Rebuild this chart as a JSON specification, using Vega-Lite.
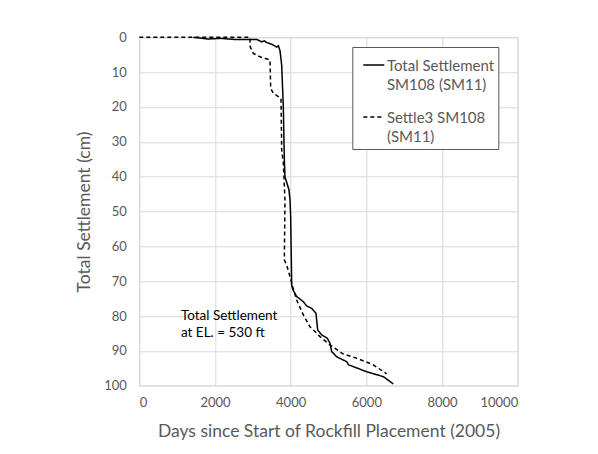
{
  "$schema": "https://vega.github.io/schema/vega-lite/v6.json",
  "autosize": "none",
  "width": 378.4,
  "height": 348.4,
  "padding": {"left": 139.3, "top": 37.3, "right": 80.3, "bottom": 68.3},
  "background": "white",
  "config": {
    "font": "Lato",
    "view": {"stroke": "#d9d9d9"},
    "axis": {
      "domain": false,
      "ticks": false,
      "gridColor": "#d9d9d9",
      "gridWidth": 1,
      "labelColor": "#595959",
      "labelFontSize": 13,
      "labelFont": "Lato",
      "labelOverlap": false,
      "titleColor": "#595959",
      "titleFontSize": 17.5,
      "titleFontWeight": "normal",
      "titleFont": "Lato"
    }
  },
  "datasets": {
    "series": [
      {"series": "Total Settlement SM108 (SM11)", "i": 1, "day": 1427, "cm": 0.0},
      {"series": "Total Settlement SM108 (SM11)", "i": 2, "day": 1824, "cm": 0.5},
      {"series": "Total Settlement SM108 (SM11)", "i": 3, "day": 2133, "cm": 0.3},
      {"series": "Total Settlement SM108 (SM11)", "i": 4, "day": 2500, "cm": 0.6},
      {"series": "Total Settlement SM108 (SM11)", "i": 5, "day": 3102, "cm": 0.6},
      {"series": "Total Settlement SM108 (SM11)", "i": 6, "day": 3234, "cm": 1.3},
      {"series": "Total Settlement SM108 (SM11)", "i": 7, "day": 3300, "cm": 1.0},
      {"series": "Total Settlement SM108 (SM11)", "i": 8, "day": 3366, "cm": 1.5},
      {"series": "Total Settlement SM108 (SM11)", "i": 9, "day": 3499, "cm": 2.0},
      {"series": "Total Settlement SM108 (SM11)", "i": 10, "day": 3631, "cm": 2.8},
      {"series": "Total Settlement SM108 (SM11)", "i": 11, "day": 3675, "cm": 2.4},
      {"series": "Total Settlement SM108 (SM11)", "i": 12, "day": 3718, "cm": 3.8},
      {"series": "Total Settlement SM108 (SM11)", "i": 13, "day": 3763, "cm": 8.0},
      {"series": "Total Settlement SM108 (SM11)", "i": 14, "day": 3806, "cm": 19.9},
      {"series": "Total Settlement SM108 (SM11)", "i": 15, "day": 3833, "cm": 35.2},
      {"series": "Total Settlement SM108 (SM11)", "i": 16, "day": 3850, "cm": 40.0},
      {"series": "Total Settlement SM108 (SM11)", "i": 17, "day": 3956, "cm": 43.8},
      {"series": "Total Settlement SM108 (SM11)", "i": 18, "day": 3983, "cm": 46.7},
      {"series": "Total Settlement SM108 (SM11)", "i": 19, "day": 4000, "cm": 51.5},
      {"series": "Total Settlement SM108 (SM11)", "i": 20, "day": 4027, "cm": 71.1},
      {"series": "Total Settlement SM108 (SM11)", "i": 21, "day": 4053, "cm": 72.3},
      {"series": "Total Settlement SM108 (SM11)", "i": 22, "day": 4159, "cm": 74.4},
      {"series": "Total Settlement SM108 (SM11)", "i": 23, "day": 4335, "cm": 75.9},
      {"series": "Total Settlement SM108 (SM11)", "i": 24, "day": 4423, "cm": 77.1},
      {"series": "Total Settlement SM108 (SM11)", "i": 25, "day": 4555, "cm": 77.8},
      {"series": "Total Settlement SM108 (SM11)", "i": 26, "day": 4669, "cm": 79.2},
      {"series": "Total Settlement SM108 (SM11)", "i": 27, "day": 4714, "cm": 84.0},
      {"series": "Total Settlement SM108 (SM11)", "i": 28, "day": 4820, "cm": 85.4},
      {"series": "Total Settlement SM108 (SM11)", "i": 29, "day": 4969, "cm": 86.4},
      {"series": "Total Settlement SM108 (SM11)", "i": 30, "day": 5040, "cm": 87.8},
      {"series": "Total Settlement SM108 (SM11)", "i": 31, "day": 5084, "cm": 90.2},
      {"series": "Total Settlement SM108 (SM11)", "i": 32, "day": 5216, "cm": 91.7},
      {"series": "Total Settlement SM108 (SM11)", "i": 33, "day": 5481, "cm": 93.1},
      {"series": "Total Settlement SM108 (SM11)", "i": 34, "day": 5530, "cm": 94.0},
      {"series": "Total Settlement SM108 (SM11)", "i": 35, "day": 6009, "cm": 96.0},
      {"series": "Total Settlement SM108 (SM11)", "i": 36, "day": 6450, "cm": 97.4},
      {"series": "Total Settlement SM108 (SM11)", "i": 37, "day": 6713, "cm": 99.5},
      {"series": "Settle3 SM108 (SM11)", "i": 1, "day": 0, "cm": 0.0},
      {"series": "Settle3 SM108 (SM11)", "i": 2, "day": 2925, "cm": 0.0},
      {"series": "Settle3 SM108 (SM11)", "i": 3, "day": 2930, "cm": 2.7},
      {"series": "Settle3 SM108 (SM11)", "i": 4, "day": 3013, "cm": 4.6},
      {"series": "Settle3 SM108 (SM11)", "i": 5, "day": 3190, "cm": 5.6},
      {"series": "Settle3 SM108 (SM11)", "i": 6, "day": 3454, "cm": 6.5},
      {"series": "Settle3 SM108 (SM11)", "i": 7, "day": 3472, "cm": 14.6},
      {"series": "Settle3 SM108 (SM11)", "i": 8, "day": 3542, "cm": 16.1},
      {"series": "Settle3 SM108 (SM11)", "i": 9, "day": 3674, "cm": 17.0},
      {"series": "Settle3 SM108 (SM11)", "i": 10, "day": 3745, "cm": 17.5},
      {"series": "Settle3 SM108 (SM11)", "i": 11, "day": 3763, "cm": 32.3},
      {"series": "Settle3 SM108 (SM11)", "i": 12, "day": 3806, "cm": 36.1},
      {"series": "Settle3 SM108 (SM11)", "i": 13, "day": 3850, "cm": 46.7},
      {"series": "Settle3 SM108 (SM11)", "i": 14, "day": 3833, "cm": 63.9},
      {"series": "Settle3 SM108 (SM11)", "i": 15, "day": 3895, "cm": 65.4},
      {"series": "Settle3 SM108 (SM11)", "i": 16, "day": 3983, "cm": 68.7},
      {"series": "Settle3 SM108 (SM11)", "i": 17, "day": 4053, "cm": 71.6},
      {"series": "Settle3 SM108 (SM11)", "i": 18, "day": 4159, "cm": 75.4},
      {"series": "Settle3 SM108 (SM11)", "i": 19, "day": 4335, "cm": 79.7},
      {"series": "Settle3 SM108 (SM11)", "i": 20, "day": 4511, "cm": 83.1},
      {"series": "Settle3 SM108 (SM11)", "i": 21, "day": 4775, "cm": 85.9},
      {"series": "Settle3 SM108 (SM11)", "i": 22, "day": 5040, "cm": 88.3},
      {"series": "Settle3 SM108 (SM11)", "i": 23, "day": 5391, "cm": 90.9},
      {"series": "Settle3 SM108 (SM11)", "i": 24, "day": 5745, "cm": 92.1},
      {"series": "Settle3 SM108 (SM11)", "i": 25, "day": 6184, "cm": 94.0},
      {"series": "Settle3 SM108 (SM11)", "i": 26, "day": 6537, "cm": 96.6}
    ],
    "notes": [
      {"day": 1100, "cm": 80.0, "text": "Total Settlement\nat EL. = 530 ft"}
    ]
  },
  "encoding": {
    "x": {
      "field": "day", "type": "quantitative",
      "scale": {"domain": [0, 10000], "nice": false},
      "axis": {
        "values": [0, 2000, 4000, 6000, 8000, 10000],
        "format": "d",
        "labelPadding": 11,
        "title": "Days since Start of Rockfill Placement (2005)",
        "titleBaseline": "middle",
        "titleY": 46.3
      }
    },
    "y": {
      "field": "cm", "type": "quantitative",
      "scale": {"domain": [0, 100], "reverse": true, "nice": false},
      "axis": {
        "values": [0, 10, 20, 30, 40, 50, 60, 70, 80, 90, 100],
        "labelPadding": 13,
        "title": "Total Settlement (cm)",
        "titleAngle": -90,
        "titleBaseline": "middle",
        "titleAlign": "center",
        "titleX": -55,
        "titleY": 174.2
      }
    }
  },
  "layer": [
    {
      "data": {"name": "series"},
      "mark": {"type": "line", "color": "black", "strokeWidth": 1.5},
      "encoding": {
        "order": {"field": "i", "type": "quantitative"},
        "strokeDash": {
          "field": "series", "type": "nominal",
          "scale": {
            "domain": ["Total Settlement SM108 (SM11)", "Settle3 SM108 (SM11)"],
            "range": [[1, 0], [4, 3]]
          },
          "legend": {
            "title": null,
            "orient": "none",
            "legendX": 213,
            "legendY": 9.7,
            "direction": "vertical",
            "strokeColor": "#595959",
            "fillColor": "white",
            "padding": 4,
            "symbolType": "M-0.09,1.18L3.73,1.18",
            "symbolSize": 121,
            "symbolStrokeWidth": 1.5,
            "symbolStrokeColor": "black",
            "symbolFillColor": "transparent",
            "labelFontSize": 15,
            "labelColor": "#595959",
            "labelFont": "Lato",
            "labelOffset": 15.6,
            "labelBaseline": "top",
            "labelLimit": 200,
            "rowPadding": 10,
            "labelExpr": "datum.label == 'Total Settlement SM108 (SM11)' ? ['Total Settlement', 'SM108 (SM11)'] : ['Settle3 SM108', '(SM11)']",
            "encode": {"labels": {"update": {"lineHeight": {"value": 19.5}}}}
          }
        }
      }
    },
    {
      "data": {"name": "notes"},
      "mark": {"type": "text", "align": "left", "baseline": "middle", "fontSize": 13.5, "color": "black", "lineBreak": "\n", "lineHeight": 17, "font": "Lato"},
      "encoding": {
        "text": {"field": "text"}
      }
    }
  ]
}
